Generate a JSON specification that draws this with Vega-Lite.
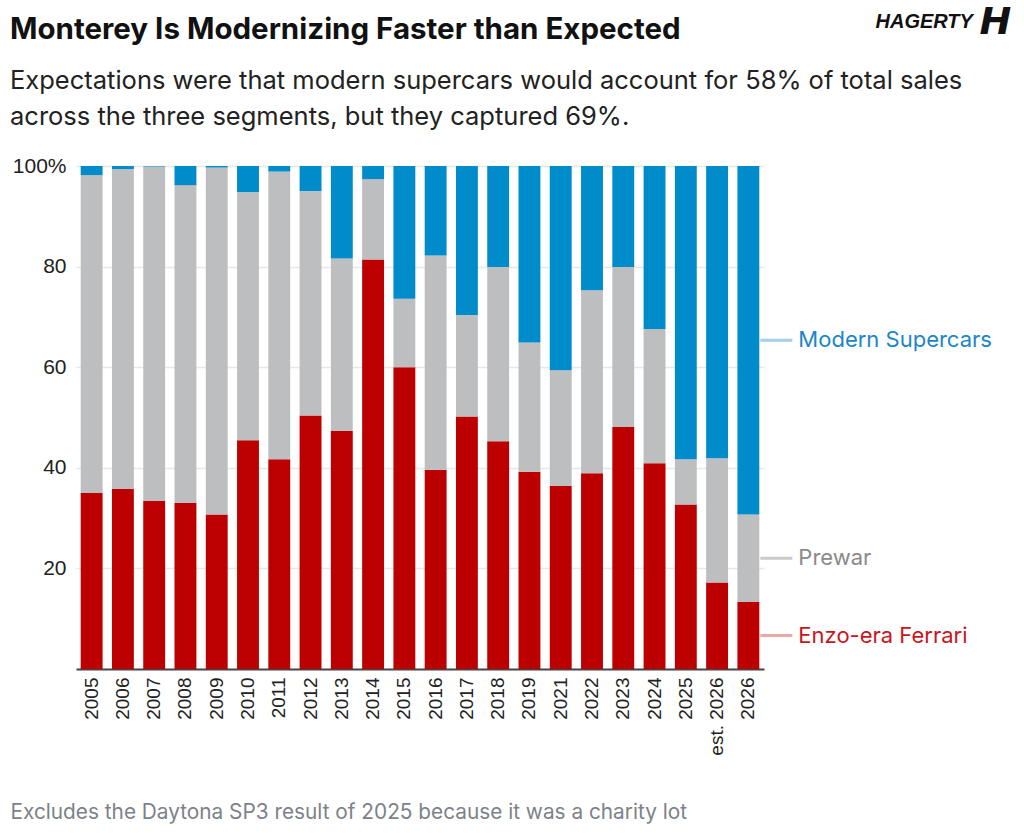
{
  "$schema": "https://vega.github.io/schema/vega-lite/v6.json",
  "width": 688,
  "height": 503,
  "autosize": {"type": "none"},
  "padding": {"left": 76, "top": 166, "right": 260, "bottom": 164},
  "background": "white",
  "config": {"view": {"stroke": null}, "font": "Inter"},
  "title": {
    "text": "Monterey Is Modernizing Faster than Expected",
    "subtitle": ["Expectations were that modern supercars would account for 58% of total sales", "across the three segments, but they captured 69%."],
    "anchor": "start",
    "frame": "group",
    "dx": -66,
    "dy": 128.5,
    "offset": 0,
    "font": "Inter",
    "fontSize": 29.5,
    "fontWeight": 700,
    "color": "#111111",
    "subtitleFont": "Inter",
    "subtitleFontSize": 25.5,
    "subtitleFontWeight": 400,
    "subtitleColor": "#222222",
    "subtitleLineHeight": 35.8,
    "subtitlePadding": 24
  },
  "data": {"values": [
    {"year": "2005", "Enzo-era Ferrari": 35.0, "Prewar": 63.2, "Modern Supercars": 1.8},
    {"year": "2006", "Enzo-era Ferrari": 35.8, "Prewar": 63.6, "Modern Supercars": 0.6},
    {"year": "2007", "Enzo-era Ferrari": 33.4, "Prewar": 66.5, "Modern Supercars": 0.1},
    {"year": "2008", "Enzo-era Ferrari": 33.0, "Prewar": 63.2, "Modern Supercars": 3.8},
    {"year": "2009", "Enzo-era Ferrari": 30.7, "Prewar": 69.0, "Modern Supercars": 0.3},
    {"year": "2010", "Enzo-era Ferrari": 45.5, "Prewar": 49.3, "Modern Supercars": 5.2},
    {"year": "2011", "Enzo-era Ferrari": 41.7, "Prewar": 57.2, "Modern Supercars": 1.1},
    {"year": "2012", "Enzo-era Ferrari": 50.4, "Prewar": 44.6, "Modern Supercars": 5.0},
    {"year": "2013", "Enzo-era Ferrari": 47.3, "Prewar": 34.3, "Modern Supercars": 18.4},
    {"year": "2014", "Enzo-era Ferrari": 81.4, "Prewar": 16.0, "Modern Supercars": 2.6},
    {"year": "2015", "Enzo-era Ferrari": 60.0, "Prewar": 13.6, "Modern Supercars": 26.4},
    {"year": "2016", "Enzo-era Ferrari": 39.6, "Prewar": 42.6, "Modern Supercars": 17.8},
    {"year": "2017", "Enzo-era Ferrari": 50.2, "Prewar": 20.2, "Modern Supercars": 29.6},
    {"year": "2018", "Enzo-era Ferrari": 45.3, "Prewar": 34.6, "Modern Supercars": 20.1},
    {"year": "2019", "Enzo-era Ferrari": 39.2, "Prewar": 25.7, "Modern Supercars": 35.1},
    {"year": "2021", "Enzo-era Ferrari": 36.4, "Prewar": 23.0, "Modern Supercars": 40.6},
    {"year": "2022", "Enzo-era Ferrari": 38.9, "Prewar": 36.4, "Modern Supercars": 24.7},
    {"year": "2023", "Enzo-era Ferrari": 48.1, "Prewar": 31.8, "Modern Supercars": 20.1},
    {"year": "2024", "Enzo-era Ferrari": 40.9, "Prewar": 26.7, "Modern Supercars": 32.4},
    {"year": "2025", "Enzo-era Ferrari": 32.7, "Prewar": 9.0, "Modern Supercars": 58.3},
    {"year": "est. 2026", "Enzo-era Ferrari": 17.2, "Prewar": 24.7, "Modern Supercars": 58.1},
    {"year": "2026", "Enzo-era Ferrari": 13.3, "Prewar": 17.4, "Modern Supercars": 69.3}
  ]},
  "transform": [
    {"fold": ["Enzo-era Ferrari", "Prewar", "Modern Supercars"], "as": ["segment", "share"]},
    {"calculate": "indexof(['Enzo-era Ferrari','Prewar','Modern Supercars'], datum.segment)", "as": "k"},
    {"stack": "share", "groupby": ["year"], "sort": [{"field": "k", "order": "ascending"}], "as": ["y0", "y1"]},
    {"calculate": "(datum.y0 + datum.y1) / 2", "as": "ymid"}
  ],
  "layer": [
    {
      "mark": {"type": "bar"},
      "encoding": {
        "x": {
          "field": "year", "type": "nominal", "sort": null,
          "scale": {"paddingInner": 0.3, "paddingOuter": 0.15},
          "axis": {
            "labelAngle": -90, "labelFont": "Liberation Sans", "labelFontSize": 19, "labelColor": "#222222",
            "labelPadding": 8, "ticks": false, "domainColor": "#444444", "domainWidth": 2, "grid": false,
            "title": "Excludes the Daytona SP3 result of 2025 because it was a charity lot",
            "titleX": -66, "titleY": 149, "titleAlign": "left", "titleAnchor": "start", "titleBaseline": "alphabetic",
            "titleFont": "Inter", "titleFontSize": 20.8, "titleFontWeight": 400, "titleColor": "#7d8288"
          }
        },
        "y": {
          "field": "y0", "type": "quantitative", "scale": {"domain": [0, 100]},
          "axis": {
            "values": [20, 40, 60, 80, 100],
            "labelExpr": "datum.value == 100 ? '100%' : datum.label",
            "grid": true, "gridColor": "#e8e8e8", "gridWidth": 1.5, "domain": false, "ticks": false,
            "labelFont": "Liberation Sans", "labelFontSize": 21, "labelColor": "#222222", "labelPadding": 10,
            "title": "HAGERTY", "titleX": 799, "titleY": -139, "titleAngle": 0, "titleAlign": "left", "titleBaseline": "alphabetic",
            "titleFont": "Liberation Sans", "titleFontSize": 20, "titleFontWeight": 900, "titleFontStyle": "italic", "titleColor": "#111111"
          }
        },
        "y2": {"field": "y1"},
        "color": {
          "field": "segment", "type": "nominal",
          "scale": {"domain": ["Enzo-era Ferrari", "Prewar", "Modern Supercars"], "range": ["#bc0000", "#bdbec0", "#008bcb"]},
          "legend": null
        }
      }
    },
    {
      "transform": [{"filter": "datum.year == '2026'"}],
      "mark": {"type": "tick", "orient": "horizontal", "size": 32, "thickness": 3, "xOffset": 28},
      "encoding": {
        "x": {"field": "year", "type": "nominal", "sort": null},
        "y": {"field": "ymid", "type": "quantitative", "scale": {"domain": [0, 100]}, "axis": null},
        "color": {
          "field": "segment", "type": "nominal",
          "scale": {"domain": ["Enzo-era Ferrari", "Prewar", "Modern Supercars"], "range": ["#e08585", "#b3b3b3", "#7db9e0"]},
          "legend": null
        }
      }
    },
    {
      "transform": [{"filter": "datum.year == '2026'"}],
      "mark": {"type": "text", "align": "left", "baseline": "middle", "dx": 50, "font": "Inter", "fontSize": 22},
      "encoding": {
        "x": {"field": "year", "type": "nominal", "sort": null},
        "y": {
          "field": "ymid", "type": "quantitative", "scale": {"domain": [0, 100]},
          "axis": {
            "orient": "right", "labels": false, "ticks": false, "domain": false, "grid": false,
            "title": "H", "titleX": 215, "titleY": -133, "titleAngle": 0, "titleAlign": "left", "titleBaseline": "alphabetic",
            "titleFont": "DejaVu Sans", "titleFontSize": 38, "titleFontWeight": 900, "titleFontStyle": "italic", "titleColor": "#111111"
          }
        },
        "text": {"field": "segment"},
        "color": {
          "field": "segment", "type": "nominal",
          "scale": {"domain": ["Enzo-era Ferrari", "Prewar", "Modern Supercars"], "range": ["#c8161d", "#8a8a8a", "#1b86c8"]},
          "legend": null
        }
      }
    }
  ],
  "resolve": {"scale": {"y": "independent", "color": "independent"}}
}
